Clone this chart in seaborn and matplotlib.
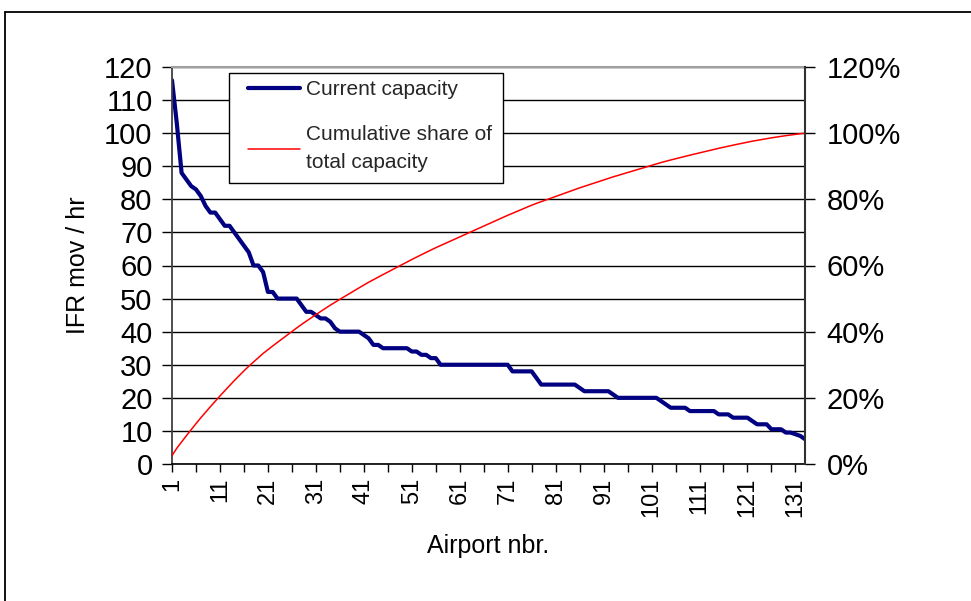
import matplotlib
matplotlib.use("Agg")
import matplotlib.pyplot as plt
import numpy as np
import pandas as pd
import seaborn as sns
from matplotlib.lines import Line2D
from matplotlib.patches import Rectangle
from matplotlib.ticker import FuncFormatter

# ---- data ----
capacity = [
    116, 103, 88, 86, 84, 83, 81, 78, 76, 76,
    74, 72, 72, 70, 68, 66, 64, 60, 60, 58,
    52, 52, 50, 50, 50, 50, 50, 48, 46, 46,
    45, 44, 44, 43, 41, 40, 40, 40, 40, 40,
    39, 38, 36, 36, 35, 35, 35, 35, 35, 35,
    34, 34, 33, 33, 32, 32, 30, 30, 30, 30,
    30, 30, 30, 30, 30, 30, 30, 30, 30, 30,
    30, 28, 28, 28, 28, 28, 26, 24, 24, 24,
    24, 24, 24, 24, 24, 23, 22, 22, 22, 22,
    22, 22, 21, 20, 20, 20, 20, 20, 20, 20,
    20, 20, 19, 18, 17, 17, 17, 17, 16, 16,
    16, 16, 16, 16, 15, 15, 15, 14, 14, 14,
    14, 13, 12, 12, 12, 10.5, 10.5, 10.5, 9.5, 9.5,
    9, 8.5, 7.5,
]
airport_nbr = list(range(1, len(capacity) + 1))
x_tick_labels = [1, 11, 21, 31, 41, 51, 61, 71, 81, 91, 101, 111, 121, 131]
y_ticks = [0, 10, 20, 30, 40, 50, 60, 70, 80, 90, 100, 110, 120]
share_ticks = [0.0, 0.2, 0.4, 0.6, 0.8, 1.0, 1.2]
series_names = ["Current capacity", "Cumulative share of\ntotal capacity"]

df = pd.DataFrame({"airport": airport_nbr, "capacity": capacity})
df["share"] = df["capacity"].cumsum() / df["capacity"].sum()

# ---- style ----
sns.set_theme(style="white")
plt.rcParams["font.family"] = ["Liberation Sans", "DejaVu Sans"]

W, H = 971, 601
AX_L, AX_R, AX_T, AX_B = 172, 805, 67, 464
fig = plt.figure(figsize=(W / 100, H / 100), dpi=100)
fig.patch.set_facecolor("white")
ax = fig.add_axes([AX_L / W, (H - AX_B) / H, (AX_R - AX_L) / W, (AX_B - AX_T) / H])
ax2 = ax.twinx()


def ax_frac(px, py):
    return (px - AX_L) / (AX_R - AX_L), (AX_B - py) / (AX_B - AX_T)


sns.lineplot(data=df, x="airport", y="capacity", ax=ax, color="#000080",
             linewidth=3.0, legend=False)
sns.lineplot(data=df, x="airport", y="share", ax=ax2, color="#FF0000",
             linewidth=1.1, legend=False)

# axes ranges / ticks
ax.set_xlim(1, len(capacity))
ax.set_ylim(0, 120)
ax2.set_ylim(0, 1.2)
ax.set_yticks(y_ticks)
ax2.set_yticks(share_ticks)
ax2.yaxis.set_major_formatter(FuncFormatter(lambda v, p: f"{v*100:.0f}%"))
ax.set_xticks(x_tick_labels)
ax.set_xticklabels([str(v) for v in x_tick_labels])
ax.set_xticks([v + 5 for v in x_tick_labels[:-1]], minor=True)

ax.tick_params(axis="x", which="both", direction="out", length=6, width=1,
               color="black", bottom=True, labelsize=17, labelrotation=90, pad=4)
ax.tick_params(axis="y", which="major", direction="out", length=7, width=1,
               color="black", left=True, labelsize=21, pad=7)
ax2.tick_params(axis="y", which="major", direction="out", length=7, width=1,
                color="black", right=True, labelsize=21, pad=8.5)

ax.yaxis.grid(True, color="black", linewidth=1.0)
ax.xaxis.grid(False)
ax2.grid(False)
ax.set_axisbelow(True)

for s in ["left", "bottom", "top", "right"]:
    ax.spines[s].set_visible(True)
ax.spines["left"].set_color("#404040")
ax.spines["left"].set_linewidth(1.3)
ax.spines["bottom"].set_color("black")
ax.spines["bottom"].set_linewidth(1.2)
ax.spines["top"].set_color("#A0A0A0")
ax.spines["top"].set_linewidth(1.5)
ax.spines["right"].set_visible(False)
for s in ["left", "bottom", "top"]:
    ax2.spines[s].set_visible(False)
ax2.spines["right"].set_color("#303030")
ax2.spines["right"].set_linewidth(1.5)

ax.set_xlabel("Airport nbr.", fontsize=18, labelpad=12, color="black")
ax.set_ylabel("IFR mov / hr", fontsize=18, labelpad=10, color="black")
ax2.set_ylabel("")
ax.tick_params(colors="black", which="both")
ax2.tick_params(colors="black")

# legend box (drawn separately so its size matches the reference)
x0, y0 = ax_frac(229, 183)
x1, y1 = ax_frac(503, 73)
box = Rectangle((x0, y0), x1 - x0, y1 - y0, transform=ax2.transAxes,
                facecolor="white", edgecolor="black", linewidth=1.0,
                zorder=10, clip_on=False)
ax2.add_patch(box)

handles = [ax.get_lines()[0], ax2.get_lines()[0]]
leg = ax2.legend(handles, series_names, loc="upper left",
                 bbox_to_anchor=ax_frac(248, 80),
                 frameon=False, fontsize=15, borderpad=0,
                 handlelength=2.5, handletextpad=0.3, labelspacing=1.25,
                 borderaxespad=0)
leg.set_zorder(11)
for t in leg.get_texts():
    t.set_linespacing(1.6)

# outer chart border
fig.add_artist(Line2D([5 / W, 5 / W], [0, 1 - 12 / H], color="black",
                      linewidth=1.3, transform=fig.transFigure))
fig.add_artist(Line2D([5 / W, 1], [1 - 12 / H, 1 - 12 / H], color="black",
                      linewidth=1.3, transform=fig.transFigure))

fig.savefig("out.png", dpi=100)
